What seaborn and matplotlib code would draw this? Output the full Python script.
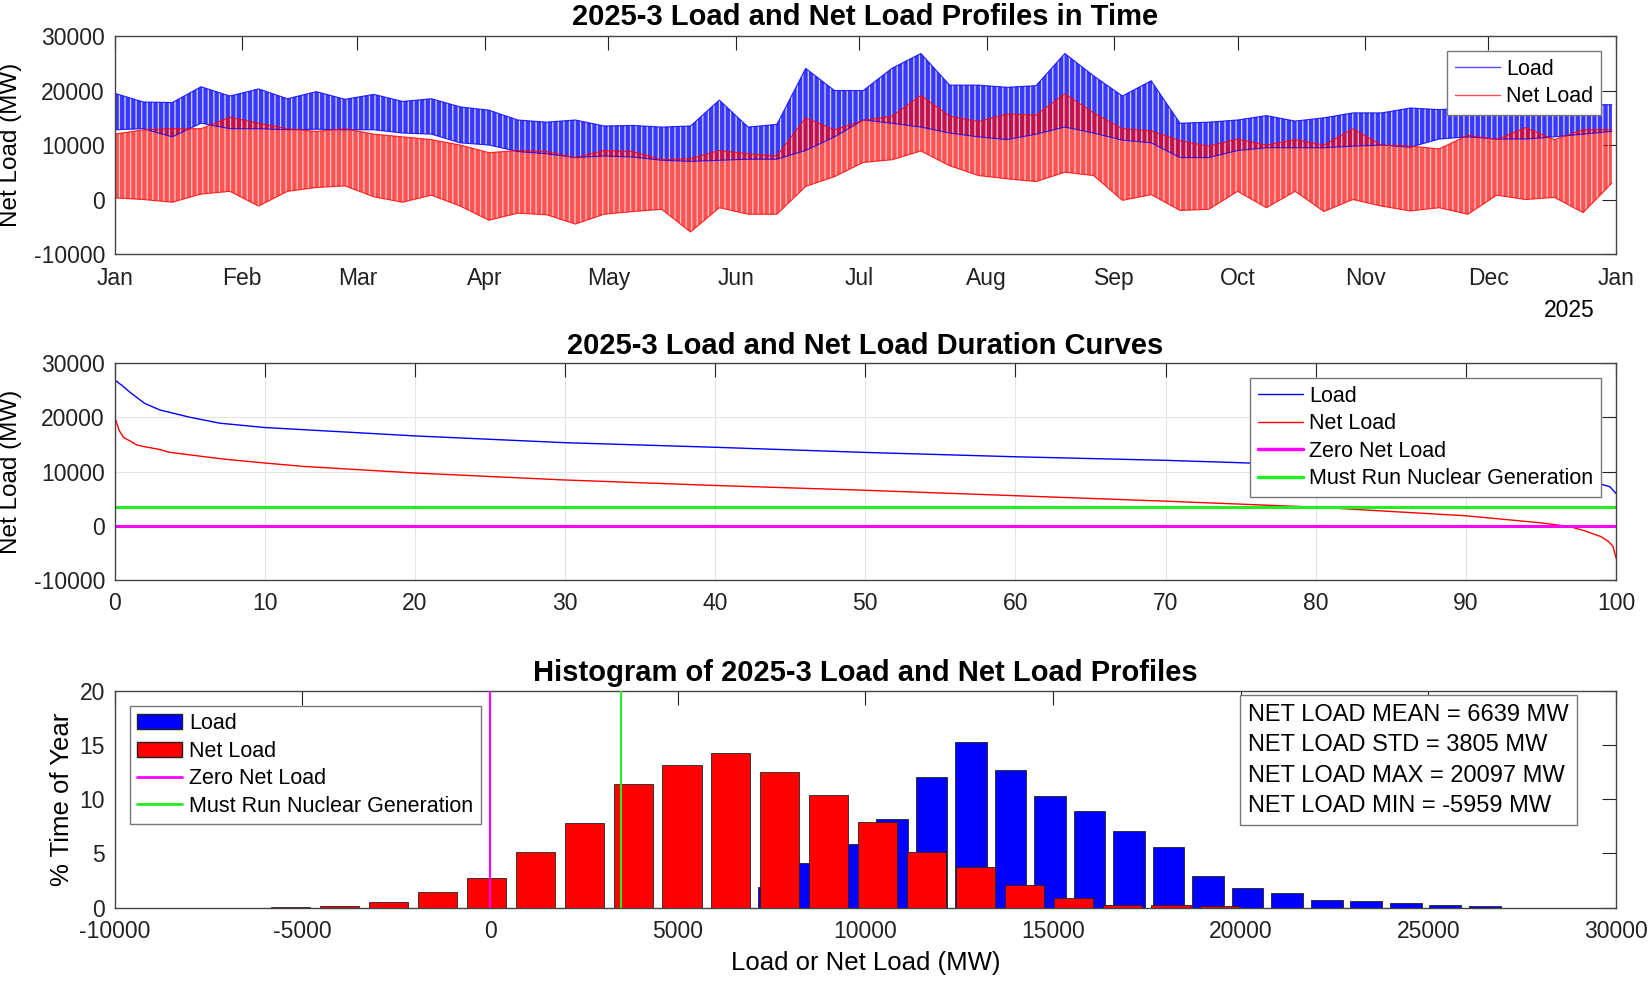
import matplotlib
matplotlib.use('Agg')
import matplotlib.pyplot as plt
import matplotlib.dates as mdates
from matplotlib.lines import Line2D
from matplotlib.patches import Patch
import pandas as pd
import seaborn as sns

# weekly envelope of the hourly profiles (MW), one sample per week from Jan 1 2025
week_start = '2025-01-01'
load_hi = [19500, 17900, 17800, 20700, 19000, 20300, 18500, 19800, 18400, 19300, 18000, 18500, 17000,
           16400, 14600, 14200, 14600, 13500, 13600, 13300, 13500, 18250, 13300, 13800, 24070,
           20000, 20000, 24100, 26800, 21000, 21000, 20600, 20900, 26800, 22700, 19000, 21800,
           14000, 14200, 14600, 15400, 14400, 15000, 15900, 15900, 16800, 16500, 16800, 16500,
           16500, 16300, 17400, 17400]
load_lo = [12800, 13000, 11500, 14000, 13000, 13000, 12800, 12900, 12800, 12800, 12200, 12000, 10400,
           10000, 8800, 8400, 7700, 8000, 7800, 7200, 7000, 7200, 7400, 7400, 9000,
           11500, 14600, 14000, 13300, 12200, 11500, 11000, 12000, 13300, 12200, 10900, 10400,
           7700, 7700, 9000, 9500, 9500, 9500, 9800, 10000, 9600, 11100, 11500, 11100,
           11100, 11500, 12000, 12500]
net_hi = [12000, 12800, 13000, 13000, 15100, 14000, 13000, 12500, 13000, 12000, 11500, 11000, 10000,
          8600, 9000, 8800, 7700, 9000, 8800, 7300, 7500, 9000, 8400, 8000,
          15000, 12800, 14500, 15300, 19100, 15300, 14300, 15700, 15500, 19400, 15900, 13000, 12600,
          10800, 9800, 11100, 10000, 11000, 10000, 13000, 10000, 9800, 9300, 11800, 11000,
          13200, 11000, 12800, 12800]
net_lo = [300, 0, -500, 1000, 1500, -1200, 1500, 2200, 2500, 500, -500, 800, -1200,
          -3800, -2500, -2800, -4500, -2700, -2200, -1800, -5959, -1500, -2700, -2700,
          2400, 4200, 6800, 7300, 8900, 6200, 4400, 3800, 3300, 5000, 4400, -150, 900,
          -2000, -1800, 1500, -1500, 1500, -2200, 0, -1200, -2100, -1500, -2700, 800,
          0, 400, -2400, 3000]

# duration curves: % of hours vs MW
dur_pct_load = [0, 0.2, 0.5, 1, 2, 3, 5, 7, 10, 20, 30, 40, 50, 60, 70, 75, 80, 85, 88, 90,
                94, 96, 98, 99, 99.6, 100]
dur_load = [27000, 26500, 25900, 24700, 22600, 21400, 20050, 18950, 18150, 16600, 15350, 14500,
            13550, 12750, 12090, 11650, 11130, 10600, 10080, 9800, 9020, 8600, 7970, 7700, 7200, 5970]
dur_pct_net = [0, 0.3, 0.6, 1, 1.5, 2, 3, 3.6, 5, 7.4, 10, 12.5, 20, 30, 40, 50, 60, 70, 80, 90,
               95, 96.5, 97, 98, 99, 99.5, 99.8, 100]
dur_net = [20097, 17600, 16300, 15700, 14900, 14600, 14100, 13600, 13100, 12280, 11600, 10980,
           9750, 8460, 7450, 6560, 5560, 4550, 3450, 1850, 550, 0, -200, -1000, -2000, -2900,
           -3800, -5959]

# histograms (20 bins each), % time of year
load_bins = [6497, 7550, 8603, 9656, 10709, 11762, 12815, 13868, 14921, 15974, 17027, 18080,
             19133, 20186, 21239, 22292, 23345, 24398, 25451, 26504]
load_pct = [0.05, 1.9, 4.15, 5.9, 8.15, 12.04, 15.3, 12.69, 10.26, 8.94, 7.07, 5.62, 2.95,
            1.81, 1.32, 0.68, 0.58, 0.4, 0.28, 0.18]
net_bins = [-5308, -4005, -2702, -1399, -96, 1206, 2509, 3812, 5115, 6418, 7720, 9023, 10326,
            11629, 12932, 14234, 15537, 16840, 18143, 19446]
net_pct = [0.02, 0.12, 0.55, 1.47, 2.76, 5.1, 7.8, 11.37, 13.15, 14.22, 12.5, 10.4, 7.86,
           5.13, 3.78, 2.09, 0.92, 0.28, 0.2, 0.12]

zero_net = 0
must_run_nuclear = 3500
stats = ['NET LOAD MEAN = 6639 MW', 'NET LOAD STD = 3805 MW',
         'NET LOAD MAX = 20097 MW', 'NET LOAD MIN = -5959 MW']

BLUE, RED, MAG, GRN = '#0000ff', '#ff0000', '#ff00ff', '#22ee22'

sns.set_theme(style='white')
plt.rcParams['font.family'] = ['Liberation Sans', 'DejaVu Sans']
plt.rcParams.update({'axes.edgecolor': '#444444', 'axes.linewidth': 1.0,
                     'xtick.color': '#222222', 'ytick.color': '#222222',
                     'text.color': 'black', 'axes.labelcolor': 'black',
                     'axes.unicode_minus': False, 'hatch.linewidth': 0.9})

fig = plt.figure(figsize=(16.5, 9.82), dpi=100)
ax1 = fig.add_axes([0.0695, 0.7413, 0.9099, 0.222])
ax2 = fig.add_axes([0.0695, 0.4094, 0.9099, 0.2206])
ax3 = fig.add_axes([0.0695, 0.0757, 0.9099, 0.221])

TICK = 16.5
LEG = 15.5


def style(ax):
    ax.tick_params(direction='in', length=10, width=0.8, top=True, right=True,
                   labelsize=TICK, pad=9)
    ax.tick_params(axis='y', pad=7)
    for s in ax.spines.values():
        s.set_visible(True)


def legend(ax, handles, labels, loc):
    lg = ax.legend(handles, labels, loc=loc, fontsize=LEG, frameon=True, fancybox=False,
                   framealpha=1, edgecolor='#777777', borderaxespad=0.7, handlelength=2.1,
                   labelspacing=0.3, handletextpad=0.3, borderpad=0.35)
    lg.get_frame().set_linewidth(1.0)
    return lg


# ---- top: profiles in time (weekly band, striped to mimic the daily swing)
dates = pd.date_range(week_start, periods=len(load_hi), freq='7D')
ax1.fill_between(dates, load_lo, load_hi, facecolor=BLUE, alpha=0.78, lw=0,
                 edgecolor=(1, 1, 1, 0.6), hatch='|||')
ax1.fill_between(dates, net_lo, net_hi, facecolor=RED, alpha=0.68, lw=0,
                 edgecolor=(1, 1, 1, 0.6), hatch='|||')
for lo, hi, c in [(load_lo, load_hi, BLUE), (net_lo, net_hi, RED)]:
    sns.lineplot(x=dates, y=hi, color=c, lw=0.8, alpha=0.8, ax=ax1)
    sns.lineplot(x=dates, y=lo, color=c, lw=0.8, alpha=0.8, ax=ax1)
ax1.set_xlim(pd.Timestamp('2025-01-01'), pd.Timestamp('2026-01-01'))
ax1.set_ylim(-10000, 30000)
ax1.set_yticks([-10000, 0, 10000, 20000, 30000])
ax1.xaxis.set_major_locator(mdates.MonthLocator())
ax1.xaxis.set_major_formatter(mdates.DateFormatter('%b'))
style(ax1)
ax1.set_xlabel('')
ax1.set_ylabel('Net Load (MW)', fontsize=17.5)
ax1.yaxis.set_label_coords(-0.0615, 0.5)
ax1.set_title('2025-3 Load and Net Load Profiles in Time', fontsize=21, fontweight='bold', pad=8)
ax1.text(0.969, -0.26, '2025', transform=ax1.transAxes, ha='center', va='center', fontsize=TICK)
legend(ax1, [Line2D([], [], color=BLUE, lw=1, alpha=0.7), Line2D([], [], color=RED, lw=1, alpha=0.7)],
       ['Load', 'Net Load'], 'upper right')

# ---- middle: duration curves
dl = pd.DataFrame({'pct': dur_pct_load, 'mw': dur_load})
dn = pd.DataFrame({'pct': dur_pct_net, 'mw': dur_net})
sns.lineplot(data=dl, x='pct', y='mw', color=BLUE, lw=1.0, ax=ax2)
sns.lineplot(data=dn, x='pct', y='mw', color=RED, lw=1.0, ax=ax2)
ax2.axhline(zero_net, color=MAG, lw=2.2)
ax2.axhline(must_run_nuclear, color=GRN, lw=2.2)
ax2.set_xlim(0, 100)
ax2.set_ylim(-10000, 30000)
ax2.set_xticks(range(0, 101, 10))
ax2.set_yticks([-10000, 0, 10000, 20000, 30000])
ax2.grid(True, color='#e4e4e4', lw=0.8)
style(ax2)
ax2.set_xlabel('')
ax2.set_ylabel('Net Load (MW)', fontsize=17.5)
ax2.yaxis.set_label_coords(-0.0615, 0.5)
ax2.set_title('2025-3 Load and Net Load Duration Curves', fontsize=21, fontweight='bold', pad=7)
legend(ax2, [Line2D([], [], color=BLUE, lw=1), Line2D([], [], color=RED, lw=1),
             Line2D([], [], color=MAG, lw=2.5), Line2D([], [], color=GRN, lw=2.5)],
       ['Load', 'Net Load', 'Zero Net Load', 'Must Run Nuclear Generation'], 'upper right')

# ---- bottom: histogram
sns.barplot(x=load_bins, y=load_pct, native_scale=True, orient='x', width=0.8, color=BLUE,
            saturation=1, edgecolor='#222222', linewidth=0.6, errorbar=None, ax=ax3)
sns.barplot(x=net_bins, y=net_pct, native_scale=True, orient='x', width=0.8, color=RED,
            saturation=1, edgecolor='#222222', linewidth=0.6, errorbar=None, ax=ax3)
ax3.axvline(zero_net, color=MAG, lw=1.5, zorder=5)
ax3.axvline(must_run_nuclear, color=GRN, lw=1.5, zorder=5)
ax3.set_xlim(-10000, 30000)
ax3.set_ylim(0, 20)
ax3.set_xticks(range(-10000, 30001, 5000))
ax3.set_xticklabels([str(v) for v in range(-10000, 30001, 5000)])
ax3.set_yticks([0, 5, 10, 15, 20])
style(ax3)
ax3.set_xlabel('Load or Net Load (MW)', fontsize=18.5)
ax3.xaxis.set_label_coords(0.5, -0.2)
ax3.set_ylabel('% Time of Year', fontsize=18.5)
ax3.yaxis.set_label_coords(-0.027, 0.5)
ax3.set_title('Histogram of 2025-3 Load and Net Load Profiles', fontsize=21, fontweight='bold', pad=7)
lg = legend(ax3, [Patch(facecolor=BLUE, edgecolor='#222222'), Patch(facecolor=RED, edgecolor='#222222'),
                  Line2D([], [], color=MAG, lw=2), Line2D([], [], color=GRN, lw=2)],
            ['Load', 'Net Load', 'Zero Net Load', 'Must Run Nuclear Generation'], 'upper left')
lg.set_zorder(10)
ax3.text(0.755, 0.94, '\n'.join(stats), transform=ax3.transAxes, ha='left', va='top',
         fontsize=17, linespacing=1.5, zorder=10,
         bbox=dict(boxstyle='square,pad=0.35', facecolor='white', edgecolor='#777777', lw=1.0))

fig.savefig('out.png', dpi=100)
